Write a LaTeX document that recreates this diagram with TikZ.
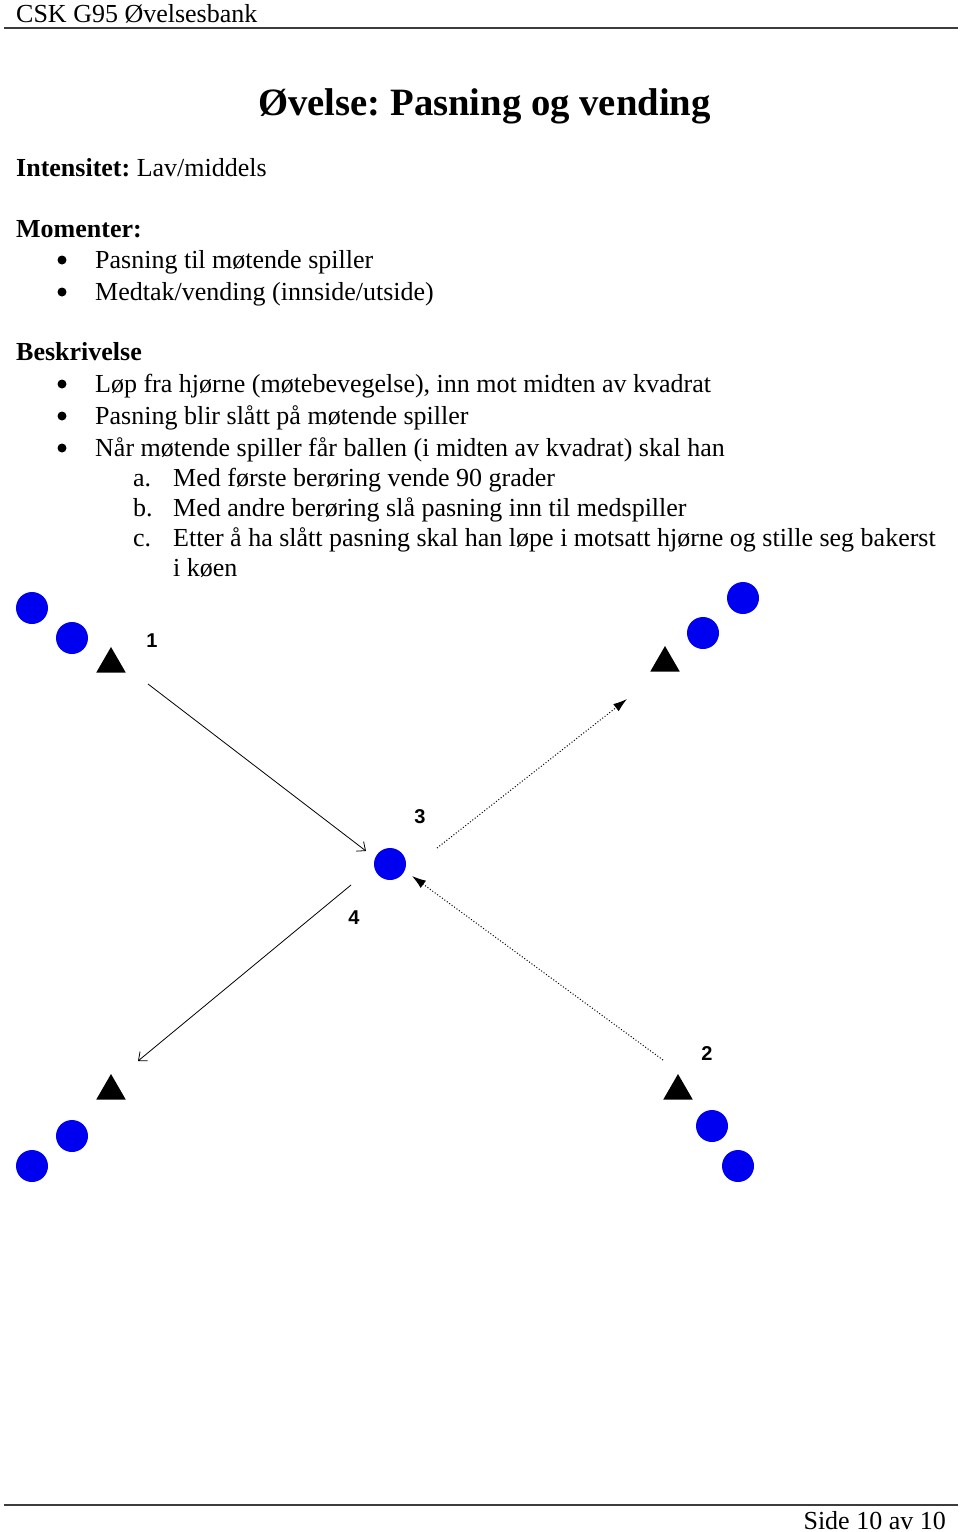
\documentclass[tikz,border=0pt]{standalone}
\usepackage{fontspec}
\setmainfont{Liberation Serif}
\newfontfamily\labfont{Liberation Sans}
\usetikzlibrary{arrows.meta,shapes.geometric}
\frenchspacing
\begin{document}
\begin{tikzpicture}[x=1pt,y=-1pt,
  txt/.style={anchor=base west,inner sep=0pt,font=\fontsize{26}{30}\selectfont},
  hd/.style={txt,font=\fontsize{26}{30}\selectfont\bfseries},
  bul/.style={circle,fill=black,inner sep=0pt,minimum size=9pt},
  player/.style={circle,fill={rgb,255:red,0;green,0;blue,240},inner sep=0pt,minimum size=32pt},
  cone/.style={regular polygon,regular polygon sides=3,fill=black,inner sep=0pt,minimum size=34pt},
  num/.style={inner sep=0pt,font=\labfont\bfseries\fontsize{20}{20}\selectfont},
  pass/.style={line width=0.8pt,-{Straight Barb[length=7pt,width=12pt,line width=0.8pt]}},
  run/.style={line width=1pt,dotted,-{Latex[length=14pt,width=9pt]}},
  rule/.style={line width=1.3pt,draw={rgb,255:red,60;green,60;blue,60}}]
\useasboundingbox (0,0) rectangle (960,1532);
\fill[white] (0,0) rectangle (960,1532);
% header / footer
\node[txt] (header) at (16,22) {CSK G95 Øvelsesbank};
\coordinate (hl) at (4,28); \coordinate (hr) at (958,28);
\draw[rule] (hl) -- (hr);
\coordinate (fl) at (4,1505); \coordinate (fr) at (958,1505);
\draw[rule] (fl) -- (fr);
\node[txt,anchor=base east] (footer) at (946,1529) {Side 10 av 10};
% title
\node[inner sep=0pt,anchor=base west,font=\fontsize{38.7}{42}\selectfont\bfseries] (title) at (258,115) {Øvelse: Pasning og vending};
\node[txt] (int) at (16,176) {\textbf{Intensitet:} Lav/middels};
\node[hd] (mom) at (16,237) {Momenter:};
\node[bul] (b1) at (62,260) {};
\node[txt] (m1) at (95,268) {Pasning til møtende spiller};
\node[bul] (b2) at (62,292) {};
\node[txt] (m2) at (95,300) {Medtak/vending (innside/utside)};
\node[hd] (besk) at (16,360) {Beskrivelse};
\node[bul] (b3) at (62,384) {};
\node[txt] (d1) at (95,392) {Løp fra hjørne (møtebevegelse), inn mot midten av kvadrat};
\node[bul] (b4) at (62,416) {};
\node[txt] (d2) at (95,424) {Pasning blir slått på møtende spiller};
\node[bul] (b5) at (62,448) {};
\node[txt] (d3) at (95,456) {Når møtende spiller får ballen (i midten av kvadrat) skal han};
\node[txt] (la) at (133,486) {a.};
\node[txt] (da) at (173,486) {Med første berøring vende 90 grader};
\node[txt] (lb) at (133,516) {b.};
\node[txt] (db) at (173,516) {Med andre berøring slå pasning inn til medspiller};
\node[txt] (lc) at (133,546) {c.};
\node[txt] (dc) at (173,546) {Etter å ha slått pasning skal han løpe i motsatt hjørne og stille seg bakerst};
\node[txt] (dc2) at (173,576) {i køen};
% players and cones
\node[player] (tl1) at (32,608) {};
\node[player] (tl2) at (72,638) {};
\node[cone] (tlc) at (111,664) {};
\node[player] (tr1) at (743,598) {};
\node[player] (tr2) at (703,633) {};
\node[cone] (trc) at (665,663) {};
\node[player] (mid) at (390,864) {};
\node[cone] (blc) at (111,1091) {};
\node[player] (bl1) at (72,1136) {};
\node[player] (bl2) at (32,1166) {};
\node[cone] (brc) at (678,1091) {};
\node[player] (br1) at (712,1126) {};
\node[player] (br2) at (738,1166) {};
% labels
\node[num] (n1) at (152,641) {1};
\node[num] (n3) at (420,817) {3};
\node[num] (n4) at (354,918) {4};
\node[num] (n2) at (707,1054) {2};
% arrows
\coordinate (p1s) at (148,684); \coordinate (p1e) at (366,851);
\draw[pass] (p1s) -- (p1e);
\coordinate (p4s) at (351,885); \coordinate (p4e) at (138,1061);
\draw[pass] (p4s) -- (p4e);
\coordinate (r3s) at (437,848); \coordinate (r3e) at (627,699);
\draw[run] (r3s) -- (r3e);
\coordinate (r2s) at (663,1060); \coordinate (r2e) at (412,876);
\draw[run] (r2s) -- (r2e);
\end{tikzpicture}
\end{document}
